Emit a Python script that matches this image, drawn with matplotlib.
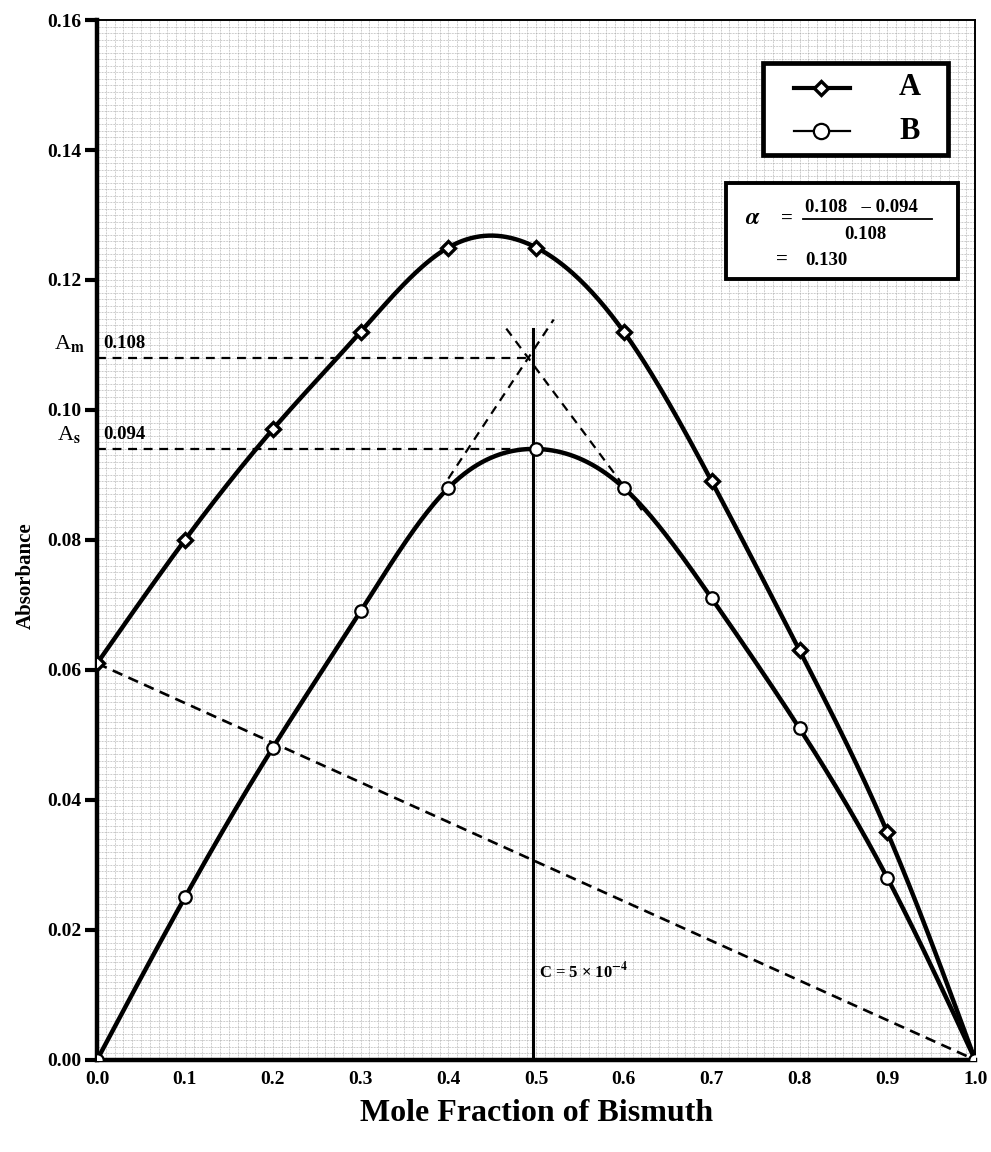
import numpy as np
import matplotlib.pyplot as plt
from matplotlib.transforms import blended_transform_factory
from matplotlib.patches import Rectangle

# data
mole_fraction = [0.0, 0.1, 0.2, 0.3, 0.4, 0.5, 0.6, 0.7, 0.8, 0.9, 1.0]
absorbance_a = [0.061, 0.080, 0.097, 0.112, 0.125, 0.125, 0.112, 0.089, 0.063, 0.035, 0.000]
absorbance_b = [0.000, 0.025, 0.048, 0.069, 0.088, 0.094, 0.088, 0.071, 0.051, 0.028, 0.000]
a_m = 0.108
a_s = 0.094
x_cross = 0.491          # where the two tangents meet
x_vertical = 0.497       # vertical guide line
left_slope = 0.204
right_slope = -0.181
alpha_value = 0.130
series_names = ["A", "B"]

plt.rcParams["font.family"] = ["Liberation Serif", "DejaVu Serif"]
plt.rcParams["font.weight"] = "bold"
plt.rcParams["mathtext.fontset"] = "stix"


def natural_spline(x, y, n=400):
    """Natural cubic spline through the points, for drawing the smooth curves."""
    x = np.asarray(x, float)
    y = np.asarray(y, float)
    k = len(x)
    h = np.diff(x)
    mat = np.zeros((k, k))
    rhs = np.zeros(k)
    mat[0, 0] = mat[-1, -1] = 1.0
    for i in range(1, k - 1):
        mat[i, i - 1] = h[i - 1]
        mat[i, i] = 2 * (h[i - 1] + h[i])
        mat[i, i + 1] = h[i]
        rhs[i] = 6 * ((y[i + 1] - y[i]) / h[i] - (y[i] - y[i - 1]) / h[i - 1])
    m = np.linalg.solve(mat, rhs)
    xs = np.linspace(x[0], x[-1], n)
    idx = np.clip(np.searchsorted(x, xs) - 1, 0, k - 2)
    x0, x1 = x[idx], x[idx + 1]
    hh = x1 - x0
    t0, t1 = x1 - xs, xs - x0
    ys = (m[idx] * t0 ** 3 + m[idx + 1] * t1 ** 3) / (6 * hh) \
        + (y[idx] / hh - m[idx] * hh / 6) * t0 + (y[idx + 1] / hh - m[idx + 1] * hh / 6) * t1
    return xs, ys


fig = plt.figure(figsize=(9.91, 11.52), dpi=100)
ax = fig.add_axes([0.098, 0.080, 0.886, 0.9026])
ax.set_xlim(0, 1.0)
ax.set_ylim(0, 0.16)

# dense background grid (the dotted texture of the original paper)
for gx in np.arange(0.0, 1.0001, 0.01):
    ax.axvline(gx, color="#9a9a9a", lw=0.5, ls=(0, (1, 1.2)), zorder=0)
for gy in np.arange(0.0, 0.1601, 0.001):
    ax.axhline(gy, color="#9a9a9a", lw=0.5, ls=(0, (1, 1.2)), zorder=0)

# curves
for yv in (absorbance_a, absorbance_b):
    xs, ys = natural_spline(mole_fraction, yv)
    ax.plot(xs, ys, color="black", lw=3.2, zorder=3)
ax.plot(mole_fraction, absorbance_a, ls="none", marker="D", ms=7, mfc="white",
        mec="black", mew=2.4, zorder=4)
ax.plot(mole_fraction, absorbance_b, ls="none", marker="o", ms=9, mfc="white",
        mec="black", mew=1.6, zorder=4)

# construction lines
dash = (0, (4, 3))
ax.plot([0, 1], [absorbance_a[0], 0], color="black", lw=1.9, ls=(0, (4, 2.5)), zorder=2)
ax.plot([0, x_cross], [a_m, a_m], color="black", lw=1.6, ls=dash, zorder=2)
ax.plot([0, 0.5], [a_s, a_s], color="black", lw=1.6, ls=dash, zorder=2)
left_x = np.array([0.40, 0.52])
ax.plot(left_x, a_m + left_slope * (left_x - x_cross), color="black", lw=1.6, ls=dash, zorder=2)
right_x = np.array([0.466, 0.625])
ax.plot(right_x, a_m + right_slope * (right_x - x_cross), color="black", lw=1.6, ls=dash, zorder=2)
ax.plot([x_vertical, x_vertical], [0, 0.1125], color="black", lw=2.2, zorder=2)

ax.text(0.007, a_m + 0.0009, f"{a_m:.3f}", fontsize=13.5, va="bottom", ha="left")
ax.text(0.007, a_s + 0.0009, f"{a_s:.3f}", fontsize=13.5, va="bottom", ha="left")
ax.text(x_vertical + 0.006, 0.012, r"C = 5 × 10$^{-4}$", fontsize=12, va="bottom", ha="left")

blend = blended_transform_factory(ax.transAxes, ax.transData)
ax.text(-0.014, a_m + 0.0006, r"A$_{\mathrm{m}}$", transform=blend, fontsize=16,
        ha="right", va="bottom", fontweight="normal")
ax.text(-0.018, a_s + 0.0006, r"A$_{\mathrm{s}}$", transform=blend, fontsize=16,
        ha="right", va="bottom", fontweight="normal")

# legend box
ax.add_patch(Rectangle((0.758, 0.870), 0.211, 0.089, transform=ax.transAxes,
                       facecolor="white", edgecolor="black", lw=3.4, zorder=5))
legend_rows = [("D", 7, 2.4, 3.0), ("o", 11, 1.6, 1.6)]
for i, (name, (mk, ms, mew, lw)) in enumerate(zip(series_names, legend_rows)):
    yy = 0.935 - i * 0.042
    ax.plot([0.794, 0.857], [yy, yy], color="black", lw=lw,
            transform=ax.transAxes, zorder=6)
    ax.plot([0.825], [yy], marker=mk, ms=ms, mfc="white", mec="black", mew=mew,
            transform=ax.transAxes, zorder=7)
    ax.text(0.925, yy, name, transform=ax.transAxes, fontsize=22, fontweight="bold",
            ha="center", va="center", zorder=7)

# alpha box
ax.add_patch(Rectangle((0.716, 0.751), 0.265, 0.092, transform=ax.transAxes,
                       facecolor="white", edgecolor="black", lw=2.8, zorder=5))
ax.text(0.747, 0.809, r"$\alpha$", transform=ax.transAxes, fontsize=17, ha="center",
        va="center", zorder=6)
ax.text(0.786, 0.809, "=", transform=ax.transAxes, fontsize=15, ha="center",
        va="center", zorder=6)
ax.text(0.871, 0.820, f"{a_m:.3f}   \u2013 {a_s:.3f}", transform=ax.transAxes, fontsize=13.5,
        ha="center", va="center", zorder=6)
ax.plot([0.804, 0.951], [0.809, 0.809], color="black", lw=1.3, transform=ax.transAxes,
        zorder=6)
ax.text(0.875, 0.794, f"{a_m:.3f}", transform=ax.transAxes, fontsize=13.5, ha="center",
        va="center", zorder=6)
ax.text(0.780, 0.769, "=", transform=ax.transAxes, fontsize=15, ha="center",
        va="center", zorder=6)
ax.text(0.807, 0.769, f"{alpha_value:.3f}", transform=ax.transAxes, fontsize=13.5,
        ha="left", va="center", zorder=6)

# axes styling
ax.set_xticks(np.arange(0, 1.01, 0.1))
ax.set_yticks(np.arange(0, 0.161, 0.02))
ax.set_xticklabels([f"{v:.1f}" for v in np.arange(0, 1.01, 0.1)])
ax.set_yticklabels([f"{v:.2f}" for v in np.arange(0, 0.161, 0.02)])
ax.tick_params(axis="both", labelsize=14, direction="out", width=3, length=9, pad=2)
ax.tick_params(axis="x", length=0, pad=8)
for side in ("left", "bottom"):
    ax.spines[side].set_linewidth(3.2)
for side in ("top", "right"):
    ax.spines[side].set_linewidth(1.4)
    ax.spines[side].set_linestyle((0, (2, 1)))

ax.set_xlabel("Mole Fraction of Bismuth", fontsize=23, fontweight="bold", labelpad=8)
fig.text(0.026, 0.5, "Absorbance", rotation=90, fontsize=15, fontweight="bold",
         ha="center", va="center")

fig.savefig("out.png", dpi=100)
